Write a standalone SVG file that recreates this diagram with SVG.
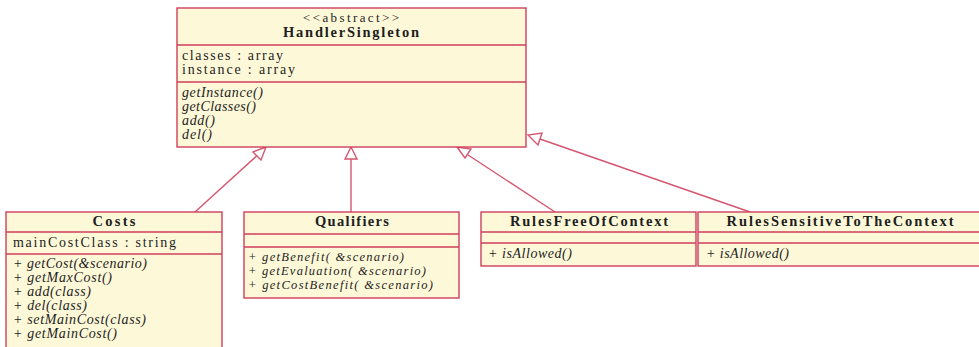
<svg xmlns="http://www.w3.org/2000/svg" width="979" height="347" viewBox="0 0 979 347">
  <style>
    .box { fill: #fdf8d8; stroke: #cf3f5c; stroke-width: 1.4; }
    .sep { stroke: #cf3f5c; stroke-width: 1.3; }
    .edge { stroke: #d4566f; stroke-width: 1.4; fill: none; }
    .head { fill: #ffffff; stroke: #d4566f; stroke-width: 1.4; }
    text { font-family: "Liberation Serif", "DejaVu Serif", serif; fill: #1e1e1e; font-size: 14px; }
    .title { font-weight: bold; font-size: 14.5px; text-anchor: middle; }
    .stereo { text-anchor: middle; font-size: 13px; }
    .op { font-style: italic; }
    .small { font-size: 12.5px; }
  </style>

  <!-- inheritance connectors -->
  <g id="connectors">
    <line class="edge" x1="195" y1="212" x2="262" y2="151"/>
    <polygon class="head" points="266,147 253,152 261,160"/>
    <line class="edge" x1="351" y1="212" x2="351" y2="159"/>
    <polygon class="head" points="351,147 345,159 357,159"/>
    <line class="edge" x1="555" y1="212" x2="462" y2="151"/>
    <polygon class="head" points="457,147 465,158 471,149"/>
    <line class="edge" x1="750" y1="212" x2="540" y2="139"/>
    <polygon class="head" points="528,135 538,145 542,133"/>
  </g>

  <g id="HandlerSingleton">
    <rect class="box" x="177" y="8" width="349" height="139"/>
    <line class="sep" x1="177" y1="45" x2="526" y2="45"/>
    <line class="sep" x1="177" y1="82" x2="526" y2="82"/>
    <text class="stereo" x="351" y="22" textLength="96" lengthAdjust="spacing">&lt;&lt;abstract&gt;&gt;</text>
    <text class="title" x="351" y="37" textLength="136" lengthAdjust="spacing">HandlerSingleton</text>
    <text x="182" y="60" textLength="101" lengthAdjust="spacing">classes : array</text>
    <text x="182" y="74" textLength="113" lengthAdjust="spacing">instance : array</text>
    <text class="op" x="182" y="97" textLength="81" lengthAdjust="spacing">getInstance()</text>
    <text class="op" x="182" y="111" textLength="74" lengthAdjust="spacing">getClasses()</text>
    <text class="op" x="182" y="125" textLength="33" lengthAdjust="spacing">add()</text>
    <text class="op" x="182" y="139" textLength="30" lengthAdjust="spacing">del()</text>
  </g>

  <g id="Costs">
    <rect class="box" x="6" y="212" width="216" height="145"/>
    <line class="sep" x1="6" y1="232" x2="222" y2="232"/>
    <line class="sep" x1="6" y1="254" x2="222" y2="254"/>
    <text class="title" x="114" y="226" textLength="43" lengthAdjust="spacing">Costs</text>
    <text x="13" y="247" textLength="163" lengthAdjust="spacing">mainCostClass : string</text>
    <text class="op" x="13" y="268" textLength="134" lengthAdjust="spacing">+ getCost(&amp;scenario)</text>
    <text class="op" x="13" y="282" textLength="99" lengthAdjust="spacing">+ getMaxCost()</text>
    <text class="op" x="13" y="296" textLength="78" lengthAdjust="spacing">+ add(class)</text>
    <text class="op" x="13" y="310" textLength="74" lengthAdjust="spacing">+ del(class)</text>
    <text class="op" x="13" y="324" textLength="133" lengthAdjust="spacing">+ setMainCost(class)</text>
    <text class="op" x="13" y="338" textLength="104" lengthAdjust="spacing">+ getMainCost()</text>
  </g>

  <g id="Qualifiers">
    <rect class="box" x="244" y="212" width="215" height="86"/>
    <line class="sep" x1="244" y1="234" x2="459" y2="234"/>
    <line class="sep" x1="244" y1="247" x2="459" y2="247"/>
    <text class="title" x="352" y="226" textLength="74" lengthAdjust="spacing">Qualifiers</text>
    <text class="op small" x="248" y="261" textLength="156" lengthAdjust="spacing">+ getBenefit( &amp;scenario)</text>
    <text class="op small" x="248" y="275" textLength="178" lengthAdjust="spacing">+ getEvaluation( &amp;scenario)</text>
    <text class="op small" x="248" y="289" textLength="185" lengthAdjust="spacing">+ getCostBenefit( &amp;scenario)</text>
  </g>

  <g id="RulesFreeOfContext">
    <rect class="box" x="481" y="212" width="215" height="54"/>
    <line class="sep" x1="481" y1="232" x2="696" y2="232"/>
    <line class="sep" x1="481" y1="243" x2="696" y2="243"/>
    <text class="title" x="589" y="226" textLength="158" lengthAdjust="spacing">RulesFreeOfContext</text>
    <text class="op" x="488" y="258" textLength="84" lengthAdjust="spacing">+ isAllowed()</text>
  </g>

  <g id="RulesSensitiveToTheContext">
    <rect class="box" x="698" y="212" width="290" height="54"/>
    <line class="sep" x1="698" y1="232" x2="988" y2="232"/>
    <line class="sep" x1="698" y1="243" x2="988" y2="243"/>
    <text class="title" x="840" y="226" textLength="227" lengthAdjust="spacing">RulesSensitiveToTheContext</text>
    <text class="op" x="706" y="258" textLength="83" lengthAdjust="spacing">+ isAllowed()</text>
  </g>
</svg>
